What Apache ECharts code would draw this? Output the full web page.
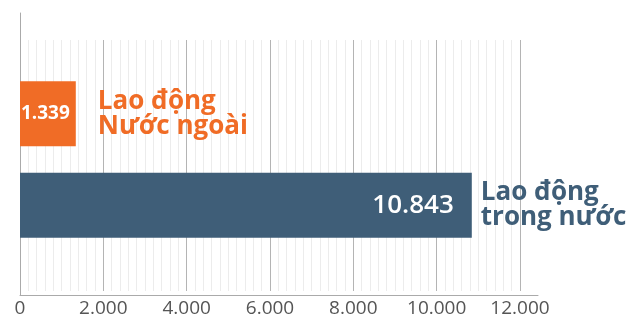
<!DOCTYPE html>
<html><head><meta charset="utf-8">
<script src="https://cdn.jsdelivr.net/npm/echarts@6/dist/echarts.min.js"></script>
<style>html,body{margin:0;padding:0;background:#fff}#c{width:639px;height:318px}</style>
</head><body><div id="c"></div>
<script>
const categories = ['Lao động\nNước ngoài', 'Lao động\ntrong nước'];
const values = [1339, 10843];
const barColors = ['#F06C26', '#3F5E78'];
const axisTicks = [0, 2000, 4000, 6000, 8000, 10000, 12000];

const FONT = '"Open Sans", sans-serif';
function fmt(v){ return String(v).replace(/\B(?=(\d{3})+(?!\d))/g, '.'); }

const chart = echarts.init(document.getElementById('c'), null, {renderer:'canvas'});
const option = {
  animation: false,
  backgroundColor: '#fff',
  grid: [
    {left: 20, right: 119, top: 40, bottom: 23},
    {left: 20, right: 101, top: 13, bottom: 23},
    {left: 20, right: 119, top: 68, bottom: 67}
  ],
  xAxis: [
    {gridIndex: 0, type: 'value', min: axisTicks[0], max: axisTicks[axisTicks.length-1], interval: 2000,
     axisLine: {show: false}, axisTick: {show: false},
     splitLine: {show: true, lineStyle: {color: '#b4b4b4', width: 1}},
     minorTick: {show: false, splitNumber: 10},
     minorSplitLine: {show: true, lineStyle: {color: '#ececec', width: 1}},
     axisLabel: {color: '#555', fontFamily: FONT, fontSize: 19, margin: 8, formatter: v => fmt(v)}},
    {gridIndex: 1, type: 'value', min: 0, max: 12432,
     axisLine: {show: true, lineStyle: {color: '#aaa', width: 1}}, axisTick: {show: false},
     splitLine: {show: false}, axisLabel: {show: false}},
    {gridIndex: 2, type: 'value', min: axisTicks[0], max: axisTicks[axisTicks.length-1], show: false}
  ],
  yAxis: [
    {gridIndex: 0, type: 'value', show: false},
    {gridIndex: 1, type: 'value', axisLine: {show: true, onZero: false, lineStyle: {color: '#aaa', width: 1}},
     axisTick: {show: false}, splitLine: {show: false}, axisLabel: {show: false}},
    {gridIndex: 2, type: 'category', inverse: true, data: categories, show: false}
  ],
  series: [
    {type: 'bar', xAxisIndex: 2, yAxisIndex: 2, barWidth: 65, barGap: '-100%',
     data: values.map((v, i) => ({
       value: v,
       itemStyle: {color: barColors[i]},
       label: i === 0
         ? {show: true, position: 'insideRight', distance: 6, color: '#fff', fontFamily: FONT, fontSize: 19, fontWeight: 700, formatter: p => fmt(p.value)}
         : {show: true, position: 'insideRight', distance: 18, color: '#fff', fontFamily: FONT, fontSize: 26, fontWeight: 600, formatter: p => fmt(p.value)}
     }))},
    {type: 'bar', xAxisIndex: 2, yAxisIndex: 2, barWidth: 65, barGap: '-100%', silent: true,
     data: values.map((v, i) => ({
       value: v,
       itemStyle: {color: 'rgba(0,0,0,0)'},
       label: {show: true, position: 'right', distance: i === 0 ? 22 : 9, color: barColors[i],
               fontFamily: FONT, fontSize: 26, fontWeight: 700, lineHeight: 25, formatter: p => p.name}
     }))}
  ]
};
chart.setOption(option);
</script></body></html>
